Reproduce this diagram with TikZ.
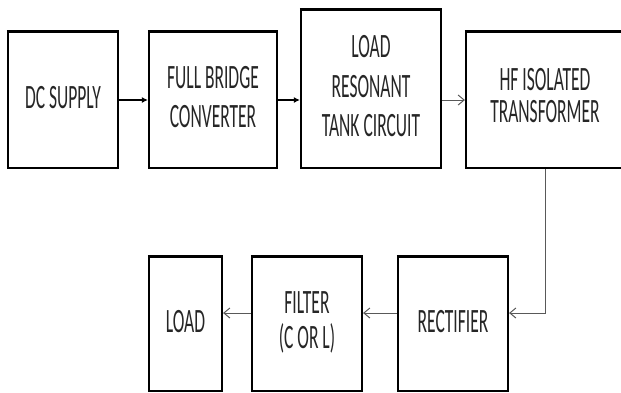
\documentclass[tikz,border=0pt]{standalone}
\usepackage{fontspec}
\usepackage{graphicx}
\setmainfont{Carlito}
\usetikzlibrary{arrows.meta}
\newcommand{\tx}[2]{\scalebox{1}[1.95]{\fontsize{17.5}{#1}\selectfont\begin{tabular}{@{}c@{}}#2\end{tabular}}}
\tikzset{
  blk/.style={draw=black, line width=2.2pt, fill=white, inner sep=0pt, text=black!85,
    append after command={\pgfextra{\draw[line width=3.4pt,black] ([yshift=-0.6pt]\tikzlastnode.north west) -- ([yshift=-0.6pt]\tikzlastnode.north east);}}},
  bold arrow/.style={line width=1.3pt, black, -{Latex[length=6pt,width=6pt]}},
  thin arrow/.style={line width=1pt, black!65, -{Straight Barb[length=6pt,width=10pt]}}
}
\begin{document}
\begin{tikzpicture}[x=1pt,y=-1pt]
\useasboundingbox (0,0) rectangle (621,392);
\clip (0,0) rectangle (621,392);
\fill[white] (0,0) rectangle (621,392);
\node[blk, minimum width=110pt, minimum height=136pt] (dc) at (63,100) {\raisebox{-1pt}{\tx{20.5}{DC SUPPLY}}};
\node[blk, minimum width=128pt, minimum height=136pt] (fb) at (213,100) {\tx{20.5}{FULL BRIDGE\\CONVERTER}};
\node[blk, minimum width=140pt, minimum height=158pt] (lr) at (371,89) {\tx{20.5}{LOAD\\RESONANT\\TANK CIRCUIT}};
\node[blk, minimum width=158pt, minimum height=136pt] (hf) at (545,100) {\raisebox{-5pt}{\tx{16.5}{HF ISOLATED\\TRANSFORMER}}};
\node[blk, minimum width=110pt, minimum height=134pt] (rect) at (453,324) {\raisebox{-1pt}{\tx{20.5}{RECTIFIER}}};
\node[blk, minimum width=110pt, minimum height=134pt] (filt) at (307,324) {\raisebox{-4pt}{\tx{17}{FILTER\\(C OR L)}}};
\node[blk, minimum width=73pt, minimum height=134pt] (load) at (185.5,324) {\raisebox{-1pt}{\tx{20.5}{LOAD}}};
\draw[bold arrow] (dc.east) -- (fb.west);
\draw[bold arrow] (fb.east) -- (fb.east -| lr.west);
\draw[thin arrow] (lr.east |- hf.west) -- (hf.west);
\draw[thin arrow] (hf.south) |- ([yshift=11pt]rect.east);
\draw[thin arrow] ([yshift=11pt]rect.west) -- ([yshift=11pt]filt.east);
\draw[thin arrow] ([yshift=11pt]filt.west) -- ([yshift=11pt]load.east);
\end{tikzpicture}
\end{document}
